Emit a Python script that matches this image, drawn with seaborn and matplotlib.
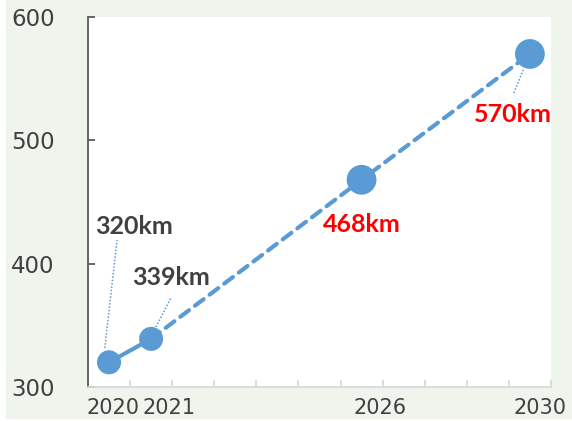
import matplotlib
matplotlib.use("Agg")
import matplotlib.pyplot as plt
from matplotlib.patches import Rectangle
import seaborn as sns
import pandas as pd

# Range (km) by year
categories = [str(y) for y in range(2020, 2031)]
years = [2020, 2021, 2026, 2030]
km = [320, 339, 468, 570]
value_labels = ["320km", "339km", "468km", "570km"]
label_colors = ["#404040", "#404040", "#ff0000", "#ff0000"]
shown_years = ["2020", "2021", "2026", "2030"]

BLUE = "#5b9bd5"
BG = "#eff5ec"

df = pd.DataFrame({"year": years, "km": km})
df["pos"] = [categories.index(str(y)) for y in df["year"]]
df["kind"] = ["actual", "actual", "forecast", "forecast"]

sns.set_theme(style="white")
plt.rcParams["font.family"] = ["DejaVu Sans"]

fig = plt.figure(figsize=(5.72, 4.21), dpi=100, facecolor="white")
# tinted panel behind the chart, leaving a thin white margin left and bottom
fig.patches.append(Rectangle((6 / 572, 2 / 421), 1, 1, transform=fig.transFigure,
                             facecolor=BG, edgecolor="none", zorder=-10))
ax = fig.add_axes([0.1538, 0.0808, 0.8094, 0.8789])
ax.set_facecolor("white")

# actual segment (solid), forecast segment (dashed)
sns.lineplot(data=df.iloc[0:2], x="pos", y="km", ax=ax, color=BLUE,
             linewidth=3.0, solid_capstyle="round", zorder=2)
sns.lineplot(data=df.iloc[1:], x="pos", y="km", ax=ax, color=BLUE,
             linewidth=3.0, dashes=(2.6, 1.8), dash_capstyle="round", zorder=2)
sns.scatterplot(data=df, x="pos", y="km", ax=ax, hue="kind", size="kind",
                sizes={"actual": 300, "forecast": 460},
                palette={"actual": BLUE, "forecast": BLUE},
                edgecolor="none", legend=False, zorder=3)

# value labels, offset from their points, with dotted leader lines
label_font = dict(family=["Lato", "DejaVu Sans"], fontweight="bold", fontsize=18)
offsets = [(0.59, 110.5), (0.47, 49.4), (0.0, -36), (-0.4, -49.4)]
leaders = [((-0.10, 331.6), (0.19, 419.2)),
           ((1.115, 348.7), (1.47, 372.2)),
           None,
           ((9.62, 538.4), (9.86, 558.7))]
for i, (p, v) in enumerate(zip(df["pos"], df["km"])):
    dx, dy = offsets[i]
    ax.text(p + dx, v + dy, value_labels[i], color=label_colors[i],
            ha="center", va="center", zorder=4, **label_font)
    if leaders[i] is not None:
        (x0, y0), (x1, y1) = leaders[i]
        ax.plot([x0, x1], [y0, y1], color=BLUE, linewidth=1.1,
                linestyle=(0, (1, 1.2)), zorder=1)

ax.set_xlim(-0.5, len(categories) - 0.5)
ax.set_ylim(300, 600)
ax.set_yticks([300, 400, 500, 600])
ax.set_xlabel("")
ax.set_ylabel("")

# category boundaries as minor ticks, sparse year labels as majors
ax.set_xticks([i - 0.5 for i in range(len(categories) + 1)], minor=True)
ax.set_xticks([0.09, 1.42, 6.44, 10.24])
ax.set_xticklabels(shown_years)

for s in ["top", "right"]:
    ax.spines[s].set_visible(False)
ax.spines["left"].set_color("#595959")
ax.spines["left"].set_linewidth(1.3)
ax.spines["bottom"].set_color("#d9d9d9")
ax.spines["bottom"].set_linewidth(1.3)

ax.tick_params(axis="y", direction="in", length=5, width=1.3, color="#595959",
               labelsize=16.5, labelcolor="#404040", pad=24, left=True)
ax.tick_params(axis="x", which="major", length=0, labelsize=15,
               labelcolor="#404040", pad=8)
ax.tick_params(axis="x", which="minor", direction="in", length=5, width=1.3,
               color="#d9d9d9", bottom=True)

fig.savefig("out.png", dpi=100, facecolor="white")
